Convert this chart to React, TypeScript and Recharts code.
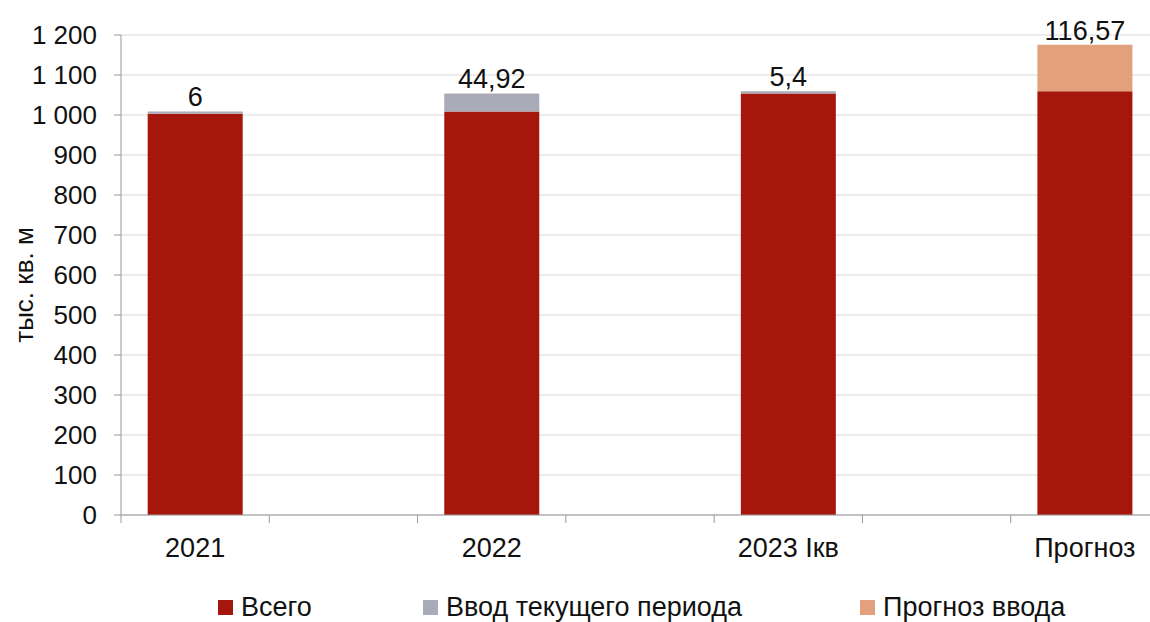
import React from "react";
import {
  BarChart,
  Bar,
  XAxis,
  YAxis,
  CartesianGrid,
  Legend,
  LabelList,
} from "recharts";

const categories = ["2021", "2022", "2023 Iкв", "Прогноз"];
const totalValues = [1003, 1009, 1053.92, 1059.32];
const currentValues: (number | null)[] = [6, 44.92, 5.4, null];
const forecastValues: (number | null)[] = [null, null, null, 116.57];
const yTicks = [0, 100, 200, 300, 400, 500, 600, 700, 800, 900, 1000, 1100, 1200];

const seriesNames = {
  total: "Всего",
  current: "Ввод текущего периода",
  forecast: "Прогноз ввода",
};

const COLORS = {
  total: "#A5160D",
  current: "#A9ABB8",
  forecast: "#E3A07D",
};

// empty slots between the real columns, as in the original sheet
const tableData: { name: string; total: number | null; current: number | null; forecast: number | null }[] = [];
categories.forEach((c, i) => {
  if (i > 0) tableData.push({ name: "", total: null, current: null, forecast: null });
  tableData.push({
    name: c,
    total: totalValues[i],
    current: currentValues[i],
    forecast: forecastValues[i],
  });
});

const FONT = '"Liberation Sans", Arial, Helvetica, sans-serif';
const AXIS_COLOR = "#999999";
const CHART_W = 1165;
const CHART_H = 622;
const Y_AXIS_W = 121;
const MARGIN = { top: 35, right: 6, left: 0, bottom: 0 };

const fmtThousands = (v: number) =>
  v >= 1000 ? `${Math.floor(v / 1000)} ${String(v % 1000).padStart(3, "0")}` : String(v);

const fmtComma = (v: number) => String(v).replace(".", ",");

const XTick = (props: any) => {
  const { x, y, payload, index } = props;
  const fallback = (CHART_W - Y_AXIS_W - MARGIN.right) / tableData.length / 2;
  const half = payload && typeof payload.offset === "number" && payload.offset > 0 ? payload.offset : fallback;
  const last = index === tableData.length - 1;
  return (
    <g>
      <line x1={x - half} x2={x - half} y1={y} y2={y + 8} stroke={AXIS_COLOR} />
      {last && <line x1={x + half} x2={x + half} y1={y} y2={y + 8} stroke={AXIS_COLOR} />}
      {payload.value ? (
        <text x={x} y={y + 42} textAnchor="middle" fontSize={27} fill="#111" fontFamily={FONT}>
          {payload.value}
        </text>
      ) : null}
    </g>
  );
};

const YLabel = (props: any) => {
  const { viewBox } = props;
  const cx = viewBox.x + 24;
  const cy = viewBox.y + viewBox.height / 2 + 10;
  return (
    <text
      x={cx}
      y={cy}
      transform={`rotate(-90, ${cx}, ${cy})`}
      textAnchor="middle"
      dominantBaseline="central"
      fontSize={26}
      fill="#111"
      fontFamily={FONT}
    >
      тыс. кв. м
    </text>
  );
};

const TopLabel = (props: any) => {
  const { x, y, width, value } = props;
  if (value === null || value === undefined) return null;
  return (
    <text x={x + width / 2} y={y - 5} textAnchor="middle" fontSize={27} fill="#111" fontFamily={FONT}>
      {fmtComma(value)}
    </text>
  );
};

const legendItems = [
  { label: seriesNames.total, color: COLORS.total, w: 205 },
  { label: seriesNames.current, color: COLORS.current, w: 437 },
  { label: seriesNames.forecast, color: COLORS.forecast, w: 260 },
];

const LegendContent = () => (
  <div
    style={{
      display: "flex",
      alignItems: "center",
      height: 30,
      paddingLeft: 218,
      fontFamily: FONT,
      fontSize: 27,
      color: "#111",
    }}
  >
    {legendItems.map((it) => (
      <div key={it.label} style={{ display: "flex", alignItems: "center", whiteSpace: "nowrap", width: it.w }}>
        <span style={{ width: 15, height: 15, background: it.color, marginRight: 8, display: "inline-block" }} />
        <span>{it.label}</span>
      </div>
    ))}
  </div>
);

export default function App() {
  return (
    <div
      style={{
        position: "absolute",
        left: 0,
        top: 0,
        width: 1150,
        height: 622,
        overflow: "hidden",
        background: "#fff",
      }}
    >
      <BarChart width={CHART_W} height={CHART_H} data={tableData} margin={MARGIN} barCategoryGap="18%">
        <CartesianGrid vertical={false} stroke="#D9D9D9" />
        <XAxis
          dataKey="name"
          interval={0}
          tickSize={0}
          tickMargin={0}
          tickLine={false}
          height={77}
          axisLine={{ stroke: AXIS_COLOR }}
          tick={<XTick />}
        />
        <YAxis
          width={Y_AXIS_W}
          domain={[0, 1200]}
          ticks={yTicks}
          interval={0}
          tickFormatter={fmtThousands}
          tickSize={7}
          tickMargin={17}
          axisLine={{ stroke: AXIS_COLOR }}
          tickLine={{ stroke: AXIS_COLOR }}
          tick={{ fontSize: 26, fill: "#111", fontFamily: FONT }}
          label={<YLabel />}
        />
        <Legend verticalAlign="bottom" content={<LegendContent />} />
        <Bar dataKey="total" name={seriesNames.total} stackId="a" fill={COLORS.total} isAnimationActive={false} />
        <Bar dataKey="current" name={seriesNames.current} stackId="a" fill={COLORS.current} isAnimationActive={false}>
          <LabelList dataKey="current" content={<TopLabel />} />
        </Bar>
        <Bar dataKey="forecast" name={seriesNames.forecast} stackId="a" fill={COLORS.forecast} isAnimationActive={false}>
          <LabelList dataKey="forecast" content={<TopLabel />} />
        </Bar>
      </BarChart>
    </div>
  );
}
